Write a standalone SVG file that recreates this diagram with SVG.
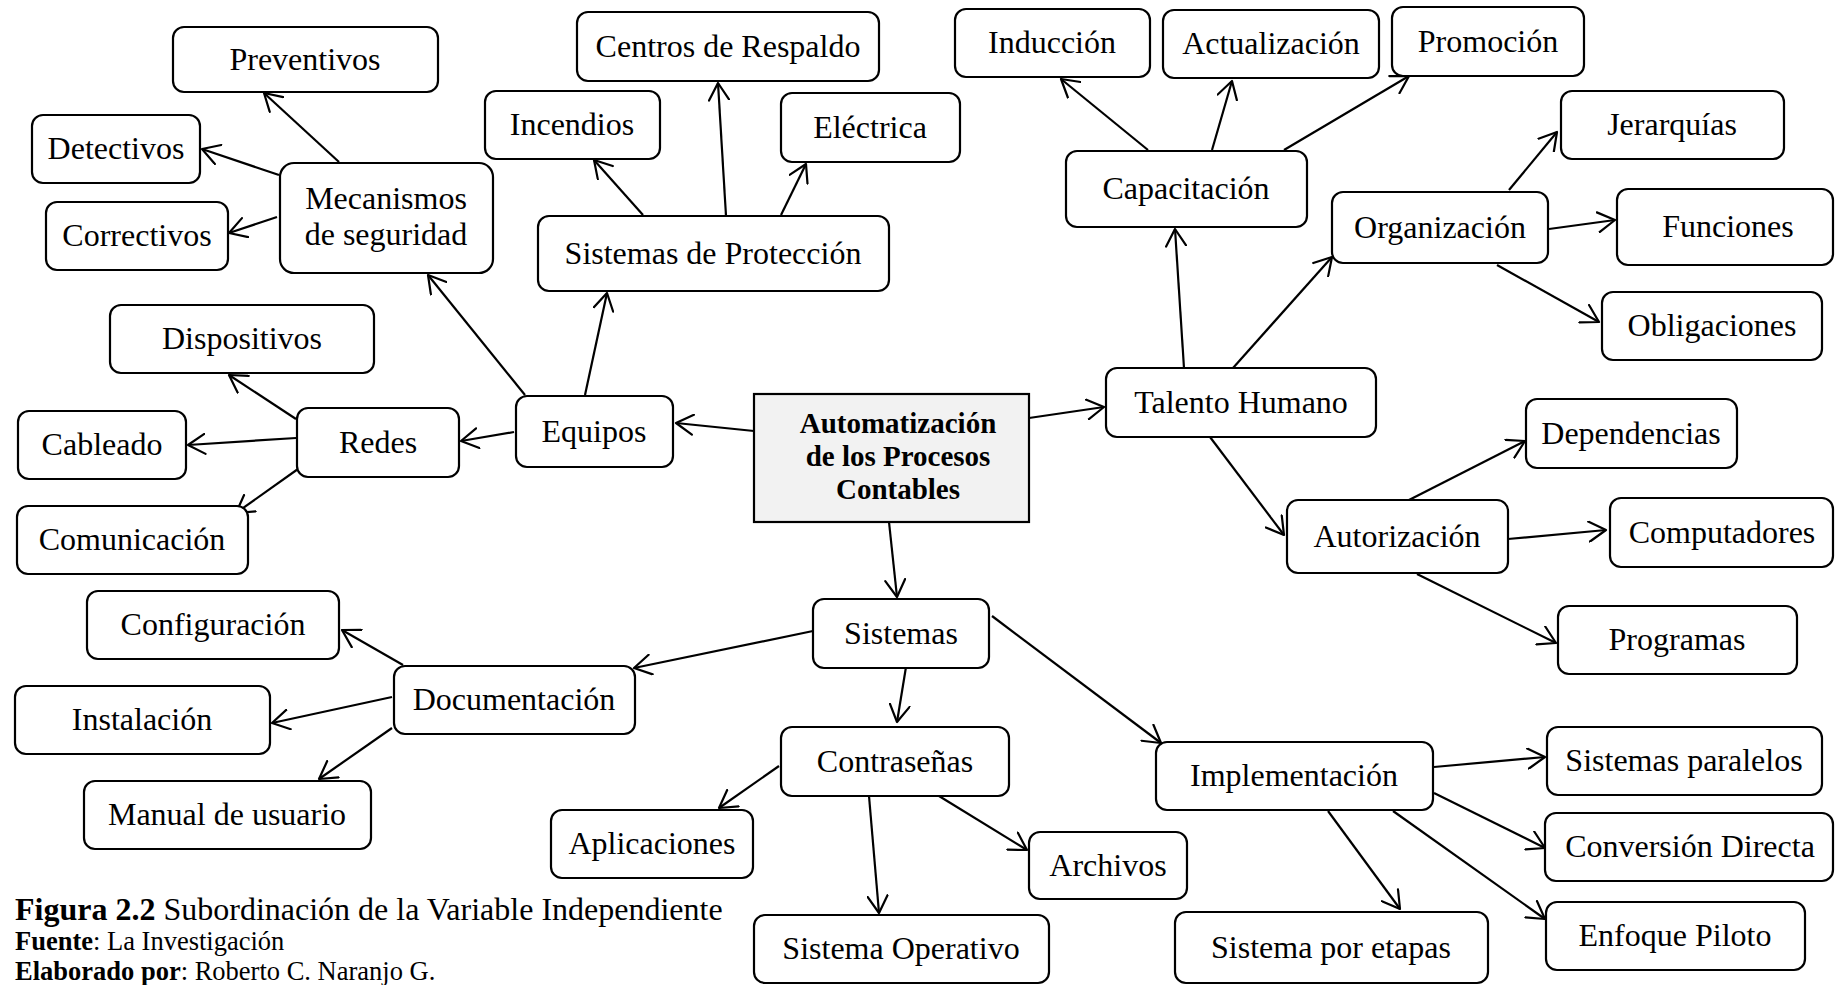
<svg xmlns="http://www.w3.org/2000/svg" width="1835" height="985" viewBox="0 0 1835 985">
<style>
.n{fill:#fff;stroke:#000;stroke-width:2.2}
.t{font-family:"Liberation Serif","Times New Roman",serif;font-size:32px;text-anchor:middle;fill:#000}
.b{font-weight:bold;font-size:29px}
.c{stroke:#000;stroke-width:2.2;fill:none;marker-end:url(#ah)}
.cap{font-family:"Liberation Serif","Times New Roman",serif;fill:#000}
</style>
<defs>
<marker id="ah" viewBox="0 0 20 22" refX="18" refY="11" markerWidth="20" markerHeight="22" markerUnits="userSpaceOnUse" orient="auto">
<path d="M1,1 L18,11 L1,21" fill="none" stroke="#000" stroke-width="2.2" stroke-linecap="round" stroke-linejoin="round"/>
</marker>
</defs>
<rect width="1835" height="985" fill="#fff"/>
<g id="connectors">
<line class="c" x1="754" y1="431" x2="676" y2="423"/>
<line class="c" x1="1029" y1="418" x2="1104" y2="407"/>
<line class="c" x1="889" y1="522" x2="897" y2="597"/>
<line class="c" x1="525" y1="395" x2="428" y2="275"/>
<line class="c" x1="585" y1="395" x2="607" y2="293"/>
<line class="c" x1="514" y1="432" x2="461" y2="441"/>
<line class="c" x1="339" y1="162" x2="264" y2="93"/>
<line class="c" x1="279" y1="175" x2="202" y2="149"/>
<line class="c" x1="277" y1="217" x2="229" y2="233"/>
<line class="c" x1="726" y1="216" x2="718" y2="83"/>
<line class="c" x1="643" y1="215" x2="594" y2="160"/>
<line class="c" x1="781" y1="215" x2="806" y2="164"/>
<line class="c" x1="296" y1="419" x2="229" y2="375"/>
<line class="c" x1="296" y1="438" x2="188" y2="445"/>
<line class="c" x1="298" y1="469" x2="236" y2="513"/>
<line class="c" x1="1184" y1="368" x2="1175" y2="229"/>
<line class="c" x1="1233" y1="368" x2="1332" y2="257"/>
<line class="c" x1="1210" y1="437" x2="1284" y2="535"/>
<line class="c" x1="1148" y1="150" x2="1061" y2="79"/>
<line class="c" x1="1212" y1="150" x2="1232" y2="81"/>
<line class="c" x1="1284" y1="150" x2="1409" y2="76"/>
<line class="c" x1="1509" y1="190" x2="1557" y2="132"/>
<line class="c" x1="1549" y1="229" x2="1615" y2="220"/>
<line class="c" x1="1497" y1="265" x2="1599" y2="322"/>
<line class="c" x1="1409" y1="500" x2="1525" y2="441"/>
<line class="c" x1="1508" y1="539" x2="1606" y2="530"/>
<line class="c" x1="1417" y1="574" x2="1556" y2="643"/>
<line class="c" x1="813" y1="631" x2="634" y2="668"/>
<line class="c" x1="906" y1="667" x2="897" y2="722"/>
<line class="c" x1="992" y1="616" x2="1161" y2="743"/>
<line class="c" x1="403" y1="665" x2="342" y2="630"/>
<line class="c" x1="392" y1="697" x2="272" y2="723"/>
<line class="c" x1="392" y1="728" x2="319" y2="779"/>
<line class="c" x1="779" y1="766" x2="719" y2="808"/>
<line class="c" x1="869" y1="796" x2="879" y2="913"/>
<line class="c" x1="939" y1="796" x2="1027" y2="850"/>
<line class="c" x1="1434" y1="767" x2="1545" y2="757"/>
<line class="c" x1="1434" y1="793" x2="1545" y2="848"/>
<line class="c" x1="1393" y1="811" x2="1545" y2="919"/>
<line class="c" x1="1328" y1="811" x2="1400" y2="909"/>
</g>
<g id="center"><rect x="754" y="394" width="275" height="128" fill="#f2f2f2" stroke="#000" stroke-width="2.2"/><text class="t b" x="898" y="433">Automatización</text><text class="t b" x="898" y="466">de los Procesos</text><text class="t b" x="898" y="499">Contables</text></g>
<g id="preventivos"><rect class="n" x="173" y="27" width="265" height="65" rx="11"/><text class="t" x="305" y="70">Preventivos</text></g>
<g id="detectivos"><rect class="n" x="32" y="115" width="168" height="68" rx="11"/><text class="t" x="116" y="159">Detectivos</text></g>
<g id="correctivos"><rect class="n" x="46" y="202" width="182" height="68" rx="11"/><text class="t" x="137" y="246">Correctivos</text></g>
<g id="mecanismos"><rect class="n" x="280" y="163" width="213" height="110" rx="14"/><text class="t" x="386" y="209">Mecanismos</text><text class="t" x="386" y="245">de seguridad</text></g>
<g id="centros"><rect class="n" x="577" y="12" width="302" height="69" rx="11"/><text class="t" x="728" y="57">Centros de Respaldo</text></g>
<g id="incendios"><rect class="n" x="485" y="91" width="175" height="68" rx="11"/><text class="t" x="572" y="135">Incendios</text></g>
<g id="electrica"><rect class="n" x="781" y="93" width="179" height="69" rx="11"/><text class="t" x="870" y="138">Eléctrica</text></g>
<g id="proteccion"><rect class="n" x="538" y="216" width="351" height="75" rx="11"/><text class="t" x="713" y="264">Sistemas de Protección</text></g>
<g id="dispositivos"><rect class="n" x="110" y="305" width="264" height="68" rx="11"/><text class="t" x="242" y="349">Dispositivos</text></g>
<g id="cableado"><rect class="n" x="18" y="411" width="168" height="68" rx="11"/><text class="t" x="102" y="455">Cableado</text></g>
<g id="redes"><rect class="n" x="297" y="408" width="162" height="69" rx="11"/><text class="t" x="378" y="453">Redes</text></g>
<g id="comunicacion"><rect class="n" x="17" y="506" width="231" height="68" rx="11"/><text class="t" x="132" y="550">Comunicación</text></g>
<g id="equipos"><rect class="n" x="516" y="396" width="157" height="71" rx="11"/><text class="t" x="594" y="442">Equipos</text></g>
<g id="induccion"><rect class="n" x="955" y="9" width="195" height="68" rx="11"/><text class="t" x="1052" y="53">Inducción</text></g>
<g id="actualizacion"><rect class="n" x="1163" y="10" width="216" height="68" rx="11"/><text class="t" x="1271" y="54">Actualización</text></g>
<g id="promocion"><rect class="n" x="1392" y="7" width="192" height="69" rx="11"/><text class="t" x="1488" y="52">Promoción</text></g>
<g id="capacitacion"><rect class="n" x="1066" y="151" width="241" height="76" rx="11"/><text class="t" x="1186" y="199">Capacitación</text></g>
<g id="jerarquias"><rect class="n" x="1561" y="91" width="223" height="68" rx="11"/><text class="t" x="1672" y="135">Jerarquías</text></g>
<g id="organizacion"><rect class="n" x="1332" y="192" width="216" height="71" rx="11"/><text class="t" x="1440" y="238">Organización</text></g>
<g id="funciones"><rect class="n" x="1617" y="189" width="216" height="76" rx="11"/><text class="t" x="1728" y="237">Funciones</text></g>
<g id="obligaciones"><rect class="n" x="1602" y="292" width="220" height="68" rx="11"/><text class="t" x="1712" y="336">Obligaciones</text></g>
<g id="talento"><rect class="n" x="1106" y="368" width="270" height="69" rx="11"/><text class="t" x="1241" y="413">Talento Humano</text></g>
<g id="dependencias"><rect class="n" x="1526" y="399" width="211" height="69" rx="11"/><text class="t" x="1631" y="444">Dependencias</text></g>
<g id="autorizacion"><rect class="n" x="1287" y="500" width="221" height="73" rx="11"/><text class="t" x="1397" y="547">Autorización</text></g>
<g id="computadores"><rect class="n" x="1610" y="498" width="223" height="69" rx="11"/><text class="t" x="1722" y="543">Computadores</text></g>
<g id="programas"><rect class="n" x="1558" y="606" width="239" height="68" rx="11"/><text class="t" x="1677" y="650">Programas</text></g>
<g id="sistemas"><rect class="n" x="813" y="599" width="176" height="69" rx="11"/><text class="t" x="901" y="644">Sistemas</text></g>
<g id="configuracion"><rect class="n" x="87" y="591" width="252" height="68" rx="11"/><text class="t" x="213" y="635">Configuración</text></g>
<g id="documentacion"><rect class="n" x="394" y="666" width="241" height="68" rx="11"/><text class="t" x="514" y="710">Documentación</text></g>
<g id="instalacion"><rect class="n" x="15" y="686" width="255" height="68" rx="11"/><text class="t" x="142" y="730">Instalación</text></g>
<g id="manual"><rect class="n" x="84" y="781" width="287" height="68" rx="11"/><text class="t" x="227" y="825">Manual de usuario</text></g>
<g id="contrasenas"><rect class="n" x="781" y="727" width="228" height="69" rx="11"/><text class="t" x="895" y="772">Contraseñas</text></g>
<g id="aplicaciones"><rect class="n" x="551" y="810" width="202" height="68" rx="11"/><text class="t" x="652" y="854">Aplicaciones</text></g>
<g id="archivos"><rect class="n" x="1029" y="832" width="158" height="67" rx="11"/><text class="t" x="1108" y="876">Archivos</text></g>
<g id="sistemaoperativo"><rect class="n" x="754" y="915" width="295" height="68" rx="11"/><text class="t" x="901" y="959">Sistema Operativo</text></g>
<g id="implementacion"><rect class="n" x="1156" y="742" width="277" height="68" rx="11"/><text class="t" x="1294" y="786">Implementación</text></g>
<g id="paralelos"><rect class="n" x="1547" y="727" width="275" height="68" rx="11"/><text class="t" x="1684" y="771">Sistemas paralelos</text></g>
<g id="conversion"><rect class="n" x="1545" y="813" width="288" height="68" rx="11"/><text class="t" x="1690" y="857">Conversión Directa</text></g>
<g id="enfoque"><rect class="n" x="1546" y="902" width="259" height="68" rx="11"/><text class="t" x="1675" y="946">Enfoque Piloto</text></g>
<g id="etapas"><rect class="n" x="1175" y="912" width="313" height="71" rx="11"/><text class="t" x="1331" y="958">Sistema por etapas</text></g>
<g id="caption">
<text class="cap" x="15" y="920" font-size="32"><tspan font-weight="bold">Figura 2.2</tspan> Subordinación de la Variable Independiente</text>
<text class="cap" x="15" y="950" font-size="26.5"><tspan font-weight="bold">Fuente</tspan>: La Investigación</text>
<text class="cap" x="15" y="980" font-size="26.5"><tspan font-weight="bold">Elaborado por</tspan>: Roberto C. Naranjo G.</text>
</g>
</svg>
